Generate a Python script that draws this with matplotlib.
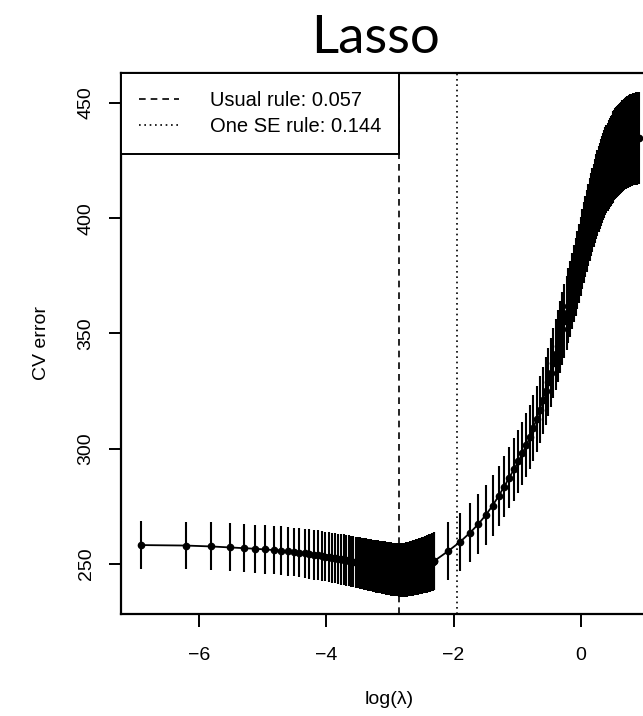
import matplotlib
matplotlib.use("Agg")
import matplotlib.pyplot as plt
from matplotlib.lines import Line2D
import numpy as np

plt.rcParams['font.family'] = ['Liberation Sans', 'DejaVu Sans']

# lambda grid: fine steps of 0.001 up to 0.1, then steps of 0.025 up to 2.5
lam_fine = np.arange(1, 101) * 0.001
lam_coarse = np.arange(5, 101) * 0.025

cv_fine = [
    258.2, 258.0, 257.6, 257.2, 256.9, 256.6, 256.3, 256.0, 255.8, 255.5,
    255.2, 254.9, 254.6, 254.3, 254.0, 253.8, 253.5, 253.2, 253.0, 252.7,
    252.5, 252.2, 252.0, 251.8, 251.6, 251.4, 251.2, 251.0, 250.8, 250.6,
    250.4, 250.2, 250.1, 249.9, 249.7, 249.6, 249.4, 249.3, 249.1, 249.0,
    248.9, 248.7, 248.6, 248.5, 248.4, 248.3, 248.2, 248.1, 248.0, 247.9,
    247.8, 247.7, 247.7, 247.6, 247.5, 247.5, 247.4, 247.4, 247.4, 247.4,
    247.4, 247.5, 247.5, 247.6, 247.6, 247.7, 247.8, 247.9, 248.0, 248.1,
    248.2, 248.3, 248.4, 248.5, 248.6, 248.7, 248.8, 248.9, 249.0, 249.1,
    249.2, 249.3, 249.4, 249.5, 249.6, 249.7, 249.8, 249.9, 250.0, 250.1,
    250.2, 250.3, 250.4, 250.5, 250.6, 250.8, 250.9, 251.0, 251.2, 251.3,
]
se_fine = [
    10.3, 10.3, 10.4, 10.4, 10.4, 10.5, 10.5, 10.5, 10.6, 10.6,
    10.6, 10.7, 10.7, 10.7, 10.8, 10.8, 10.8, 10.8, 10.9, 10.9,
    10.9, 10.9, 11.0, 11.0, 11.0, 11.0, 11.1, 11.1, 11.1, 11.1,
    11.2, 11.2, 11.2, 11.2, 11.3, 11.3, 11.3, 11.3, 11.3, 11.4,
    11.4, 11.4, 11.4, 11.4, 11.5, 11.5, 11.5, 11.5, 11.5, 11.5,
    11.6, 11.6, 11.6, 11.6, 11.6, 11.6, 11.6, 11.7, 11.7, 11.7,
    11.7, 11.7, 11.8, 11.8, 11.8, 11.8, 11.9, 11.9, 11.9, 11.9,
    12.0, 12.0, 12.0, 12.0, 12.1, 12.1, 12.1, 12.1, 12.2, 12.2,
    12.2, 12.2, 12.3, 12.3, 12.3, 12.3, 12.4, 12.4, 12.4, 12.4,
    12.5, 12.5, 12.5, 12.5, 12.5, 12.6, 12.6, 12.6, 12.6, 12.6,
]
cv_coarse = [
    255.7, 259.6, 263.5, 267.3, 271.3, 275.3, 279.5, 283.5, 287.5, 291.0,
    294.5, 298.0, 301.5, 305.0, 309.0, 313.0, 317.0, 321.0, 325.0, 329.0,
    333.0, 337.0, 341.0, 344.5, 348.5, 352.0, 355.5, 359.0, 362.0, 365.0,
    368.5, 371.5, 374.5, 377.5, 380.5, 383.5, 386.5, 389.5, 392.0, 394.5,
    397.0, 399.5, 401.5, 403.5, 405.5, 407.5, 409.3, 411.0, 412.6, 414.1,
    415.5, 416.8, 418.0, 419.2, 420.3, 421.3, 422.3, 423.2, 424.0, 424.8,
    425.5, 426.2, 426.8, 427.4, 428.0, 428.5, 429.0, 429.5, 429.9, 430.3,
    430.7, 431.1, 431.4, 431.7, 432.0, 432.3, 432.5, 432.8, 433.0, 433.2,
    433.4, 433.6, 433.7, 433.9, 434.0, 434.1, 434.2, 434.3, 434.4, 434.5,
    434.5, 434.6, 434.6, 434.7, 434.7, 434.7,
]
se_coarse = [
    12.6, 12.7, 12.8, 12.9, 13.0, 13.1, 13.2, 13.3, 13.4, 13.5,
    13.6, 13.8, 13.9, 14.0, 14.2, 14.3, 14.5, 14.6, 14.8, 14.9,
    15.1, 15.2, 15.4, 15.5, 15.7, 15.8, 16.0, 16.1, 16.3, 16.4,
    16.6, 16.7, 16.8, 17.0, 17.1, 17.2, 17.4, 17.5, 17.6, 17.7,
    17.8, 17.9, 18.0, 18.1, 18.2, 18.3, 18.4, 18.5, 18.6, 18.7,
    18.8, 18.8, 18.9, 19.0, 19.1, 19.1, 19.2, 19.3, 19.3, 19.4,
    19.4, 19.5, 19.5, 19.5, 19.6, 19.6, 19.6, 19.7, 19.7, 19.7,
    19.7, 19.8, 19.8, 19.8, 19.8, 19.8, 19.9, 19.9, 19.9, 19.9,
    19.9, 19.9, 20.0, 20.0, 20.0, 20.0, 20.0, 20.0, 20.0, 20.0,
    20.0, 20.0, 20.0, 20.0, 20.0, 20.0,
]

lam_usual = 0.057
lam_1se = 0.144

lam = np.concatenate([lam_fine, lam_coarse])
cv = np.array(cv_fine + cv_coarse)
se = np.array(se_fine + se_coarse)
loglam = np.log(lam)

W, H = 643, 716
fig = plt.figure(figsize=(W / 100, H / 100), dpi=100)
# axes box extends past the right edge of the picture, as in the original crop
left, right, top, bottom = 121, 657, 73, 614
ax = fig.add_axes([left / W, 1 - bottom / H, (right - left) / W, (bottom - top) / H])

ax.errorbar(loglam, cv, yerr=se, fmt='-o', color='black', ms=4.5, lw=1.3,
            elinewidth=1.5, capsize=0)

ax.axvline(np.log(lam_usual), color='black', ls=(0, (4, 3)), lw=1.2)
ax.axvline(np.log(lam_1se), color='black', ls=(0, (1, 2.2)), lw=1.2)

ax.set_xlim(-7.23, 1.2)
ax.set_ylim(228.3, 463.0)
ax.set_xticks([-6, -4, -2, 0])
ax.set_yticks([250, 300, 350, 400, 450])
ax.tick_params(direction='out', length=9, width=1.4, labelsize=14)
ax.tick_params(axis='x', pad=15)
ax.tick_params(axis='y', pad=10)
for lab in ax.get_yticklabels():
    lab.set_rotation(90)
    lab.set_va('center')
for sp in ax.spines.values():
    sp.set_linewidth(1.6)

ax.set_xlabel('log(λ)', fontsize=14, labelpad=19)
ax.set_ylabel('CV error', fontsize=14, labelpad=20)

handles = [Line2D([], [], color='black', ls=(0, (4, 3)), lw=1.2),
           Line2D([], [], color='black', ls=(0, (1, 2.2)), lw=1.2)]
leg = ax.legend(handles, ['Usual rule: 0.057', 'One SE rule: 0.144'],
                loc='upper left', borderaxespad=0, fancybox=False,
                framealpha=1, edgecolor='black', fontsize=14.5,
                handlelength=2.0, handletextpad=1.5, borderpad=0.9,
                labelspacing=0.35)
leg.get_frame().set_linewidth(1.4)

fig.text(375 / W, 1 - 53 / H, 'Lasso', family=['Lato', 'DejaVu Sans'],
         fontsize=38, ha='center', va='baseline')

fig.savefig('out.png', dpi=100)
